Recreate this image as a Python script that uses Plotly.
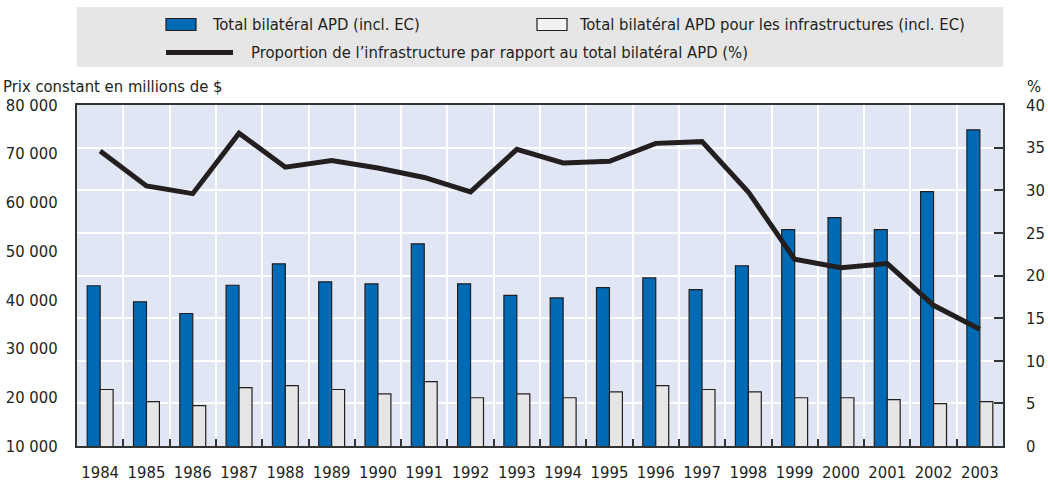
import plotly.graph_objects as go

years = [str(y) for y in range(1984, 2004)]
total_apd = [42900, 39600, 37200, 43000, 47400, 43700, 43300, 51500, 43300, 40900,
             40400, 42500, 44500, 42100, 47000, 54400, 56900, 54400, 62200, 74900]
infra_apd = [21600, 19100, 18300, 22000, 22400, 21600, 20700, 23200, 19900, 20700,
             19900, 21100, 22400, 21600, 21100, 19900, 19900, 19500, 18700, 19100]
share_pct = [34.6, 30.5, 29.6, 36.7, 32.7, 33.5, 32.6, 31.5, 29.8, 34.8,
             33.2, 33.4, 35.5, 35.7, 29.8, 21.9, 20.9, 21.4, 16.5, 13.7]

left_ticks = [10000, 20000, 30000, 40000, 50000, 60000, 70000, 80000]
left_ticktext = ["10 000", "20 000", "30 000", "40 000", "50 000", "60 000", "70 000", "80 000"]

name_total = "Total bilatéral APD (incl. EC)"
name_infra = "Total bilatéral APD pour les infrastructures (incl. EC)"
name_share = "Proportion de l’infrastructure par rapport au total bilatéral APD (%)"
left_title = "Prix constant en millions de $"
right_title = "%"

FONT = "DejaVu Sans Condensed, DejaVu Sans, sans-serif"
FS = 16.5
BLUE = "#006ab5"
GREY = "#e6e6e6"
DARK = "#231f20"

fig = go.Figure()
fig.add_trace(go.Bar(x=years, y=total_apd, name=name_total, marker_color=BLUE,
                     marker_line=dict(color=DARK, width=1.2), yaxis="y"))
fig.add_trace(go.Bar(x=years, y=infra_apd, name=name_infra, marker_color=GREY,
                     marker_line=dict(color=DARK, width=1.2), yaxis="y"))
fig.add_trace(go.Scatter(x=years, y=share_pct, name=name_share, mode="lines",
                         line=dict(color=DARK, width=5), yaxis="y2"))

W, H = 1048, 483
L, R, T, B = 77, 45, 105, 37
pw, ph = W - L - R, H - T - B


def px(x):
    return (x - L) / pw


def py(y):
    return (H - B - y) / ph


shapes = [
    dict(type="rect", xref="paper", yref="paper", x0=px(77), x1=px(1003), y0=py(67), y1=py(7),
         fillcolor="#e6e6e6", line=dict(width=0), layer="below"),
    dict(type="rect", xref="paper", yref="paper", x0=px(166), x1=px(196), y0=py(30.5), y1=py(18.5),
         fillcolor=BLUE, line=dict(color=DARK, width=1.2)),
    dict(type="rect", xref="paper", yref="paper", x0=px(537), x1=px(567), y0=py(30.5), y1=py(18.5),
         fillcolor="#f2f2f2", line=dict(color=DARK, width=1.2)),
    dict(type="line", xref="paper", yref="paper", x0=px(166), x1=px(233), y0=py(52.5), y1=py(52.5),
         line=dict(color=DARK, width=5)),
]

ann_font = dict(family=FONT, size=FS, color="#231f20")
annotations = [
    dict(text=name_total, x=px(210), y=py(24.5), xref="paper", yref="paper",
         xanchor="left", yanchor="middle", showarrow=False, font=ann_font),
    dict(text=name_infra, x=px(577), y=py(24.5), xref="paper", yref="paper",
         xanchor="left", yanchor="middle", showarrow=False, font=ann_font),
    dict(text=name_share, x=px(249), y=py(52.5), xref="paper", yref="paper",
         xanchor="left", yanchor="middle", showarrow=False, font=ann_font),
    dict(text=left_title, x=px(1), y=py(86), xref="paper", yref="paper",
         xanchor="left", yanchor="middle", showarrow=False, font=ann_font),
    dict(text=right_title, x=px(1025), y=py(86), xref="paper", yref="paper",
         xanchor="left", yanchor="middle", showarrow=False, font=ann_font),
]

fig.update_layout(
    width=W, height=H,
    margin=dict(l=L, r=R, t=T, b=B, pad=0),
    paper_bgcolor="white",
    plot_bgcolor="#e1e6f4",
    barmode="group", bargap=0.44, bargroupgap=0,
    showlegend=False,
    font=dict(family=FONT, size=FS, color="#231f20"),
    shapes=shapes,
    annotations=annotations,
    xaxis=dict(type="category", tickson="boundaries", ticks="inside", ticklen=7,
               tickcolor="#333333", tickwidth=1.5, showgrid=True, gridcolor="white",
               gridwidth=1.5, showline=True, linecolor="#333333", linewidth=2, mirror=True,
               ticklabelstandoff=10, tickangle=0, automargin=False,
               tickfont=dict(size=FS)),
    yaxis=dict(range=[10000, 80000], tickvals=left_ticks, ticktext=left_ticktext,
               ticks="", showgrid=False, zeroline=False, showline=True,
               linecolor="#333333", linewidth=2, mirror=True, ticklabelstandoff=14,
               automargin=False, tickfont=dict(size=FS)),
    yaxis2=dict(range=[0, 40], dtick=5, overlaying="y", side="right", ticks="inside",
                ticklen=9, tickcolor="#333333", tickwidth=1.5, showgrid=True,
                gridcolor="white", gridwidth=1.5, zeroline=False, showline=False,
                ticklabelstandoff=22, automargin=False, tickfont=dict(size=FS)),
    yaxis3=dict(range=[0, 40], dtick=5, overlaying="y", side="left", ticks="inside",
                ticklen=8, tickcolor="#333333", tickwidth=1.5, showgrid=False,
                zeroline=False, showline=False, showticklabels=False, automargin=False),
)

fig.write_html("out.html", config={"displayModeBar": False},
               post_script="document.body.style.margin='0';document.body.style.overflow='hidden';")
